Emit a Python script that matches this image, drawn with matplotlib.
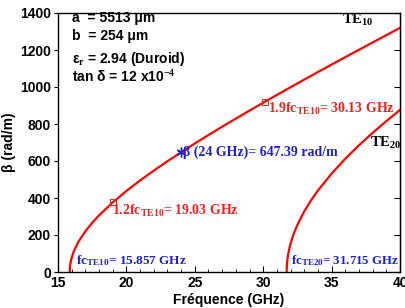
import matplotlib
matplotlib.use("Agg")
import matplotlib.pyplot as plt
from matplotlib.ticker import MultipleLocator

# TE10 dispersion (frequency GHz, beta rad/m)
f_te10 = [15.857, 15.87, 15.9, 15.95, 16.0, 16.1, 16.2, 16.5, 17.0, 17.5, 18, 19, 20, 21, 22, 23, 24,
          25, 26, 27, 28, 29, 30, 31, 32, 33, 34, 35, 36, 37, 38, 39, 40]
b_te10 = [0, 23.1, 42.0, 61.8, 76.7, 100.1, 119.2, 163.9, 220.2, 266.0, 306.1, 376.1, 438.0, 494.8,
          548.0, 598.7, 647.4, 694.6, 740.5, 785.3, 829.3, 872.6, 915.2, 957.2, 998.8, 1040.0,
          1080.8, 1121.3, 1161.4, 1201.3, 1241.0, 1280.4, 1319.6]
# TE20 dispersion
f_te20 = [31.715, 31.73, 31.75, 31.8, 31.9, 32.0, 32.2, 32.5, 33.0, 33.5, 34, 35, 36, 37, 38, 39, 40]
b_te20 = [0, 35.1, 53.6, 83.5, 123.3, 153.1, 200.1, 255.1, 327.7, 387.7, 440.4, 532.0, 612.1,
          684.8, 752.2, 815.6, 876.0]

# marked points
sq_f = [19.03, 30.13]
sq_b = [378.1, 920.7]
star_f = [24.0]
star_b = [647.39]

xticks = [15, 20, 25, 30, 35, 40]
yticks = [0, 200, 400, 600, 800, 1000, 1200, 1400]

RED = '#ff0000'
TRED = '#e8251f'
BLUE = '#1f1fd0'

plt.rcParams['mathtext.fontset'] = 'custom'
plt.rcParams['mathtext.rm'] = 'Liberation Serif:bold'
plt.rcParams['mathtext.bf'] = 'Liberation Serif:bold'
plt.rcParams['mathtext.it'] = 'Liberation Serif:bold'

fig = plt.figure(figsize=(4.05, 3.08), dpi=100)
ax = fig.add_axes([58/405, 1-272/308, 342/405, 259/308])

ax.plot(f_te10, b_te10, color=RED, lw=1.6)
ax.plot(f_te20, b_te20, color=RED, lw=1.6)
ax.plot(sq_f, sq_b, ls='none', marker='s', ms=5, mfc='none', mec=TRED, mew=0.8)
ax.plot(star_f, star_b, ls='none', marker=(6, 2, 0), ms=7, mew=1.0, color=BLUE)

ax.set_xlim(15, 40)
ax.set_ylim(0, 1400)
ax.set_xticks(xticks)
ax.set_yticks(yticks)
ax.xaxis.set_minor_locator(MultipleLocator(1))

sans = 'Liberation Sans'
serif = 'Liberation Serif'
FS = 10
for lab in ax.get_xticklabels() + ax.get_yticklabels():
    lab.set_fontfamily(sans)
    lab.set_fontweight('bold')
    lab.set_fontsize(FS)

ax.tick_params(axis='x', which='major', direction='in', length=4, width=0.8, pad=3, top=False)
ax.tick_params(axis='x', which='minor', direction='in', length=2, width=0.6, top=False)
ax.tick_params(axis='y', which='major', direction='out', length=3, width=0.8, pad=2, right=False)
ax2 = ax.secondary_yaxis('right')
ax2.set_yticks(yticks)
ax2.tick_params(direction='in', length=4, width=0.8, labelright=False)

for s in ax.spines.values():
    s.set_linewidth(1.0)

ax.set_xlabel('Fréquence (GHz)', fontfamily=sans, fontweight='bold', fontsize=FS, labelpad=2)
ax.set_ylabel('β (rad/m)', fontfamily=sans, fontweight='bold', fontsize=FS, labelpad=3)

ax.text(0.04, 0.982, 'a  = 5513 μm', transform=ax.transAxes, va='center', ha='left',
        fontfamily=sans, fontweight='bold', fontsize=FS)
ax.text(0.04, 0.912, 'b  = 254 μm', transform=ax.transAxes, va='center', ha='left',
        fontfamily=sans, fontweight='bold', fontsize=FS)
ax.text(0.04, 0.822, r'ε$_\mathbf{r}$ = 2.94 (Duroid)', transform=ax.transAxes, va='center', ha='left',
        fontfamily=sans, fontweight='bold', fontsize=FS)
ax.text(0.04, 0.752, r'tan δ = 12 x10$^\mathbf{-4}$', transform=ax.transAxes, va='center', ha='left',
        fontfamily=sans, fontweight='bold', fontsize=FS)


def xd(px):
    return 15 + (px - 58) / 342 * 25


def yd(py):
    return (272 - py) / 259 * 1400


TS = 10
ax.text(xd(342), yd(20), r'TE$_{\mathrm{10}}$', color='black', fontfamily=serif,
        fontweight='bold', fontsize=10.5, va='center', ha='left')
ax.text(xd(370), yd(143), r'TE$_{\mathrm{20}}$', color='black', fontfamily=serif,
        fontweight='bold', fontsize=10.5, va='center', ha='left')
ax.text(xd(268), yd(109), r'1.9fc$_{\mathrm{TE10}}$= 30.13 GHz', color=TRED, fontfamily=serif,
        fontweight='bold', fontsize=TS, va='center', ha='left')
ax.text(xd(183), yd(152), r'β (24 GHz)= 647.39 rad/m', color=BLUE, fontfamily=serif,
        fontweight='bold', fontsize=TS, va='center', ha='left')
ax.text(xd(112), yd(211), r'1.2fc$_{\mathrm{TE10}}$= 19.03 GHz', color=TRED, fontfamily=serif,
        fontweight='bold', fontsize=TS, va='center', ha='left')
ax.text(xd(76), yd(261), r'fc$_{\mathrm{TE10}}$= 15.857 GHz', color=BLUE, fontfamily=serif,
        fontweight='bold', fontsize=9.5, va='center', ha='left')
ax.text(xd(291), yd(261), r'fc$_{\mathrm{TE20}}$= 31.715 GHz', color=BLUE, fontfamily=serif,
        fontweight='bold', fontsize=9.3, va='center', ha='left')

fig.savefig('out.png', dpi=100)
